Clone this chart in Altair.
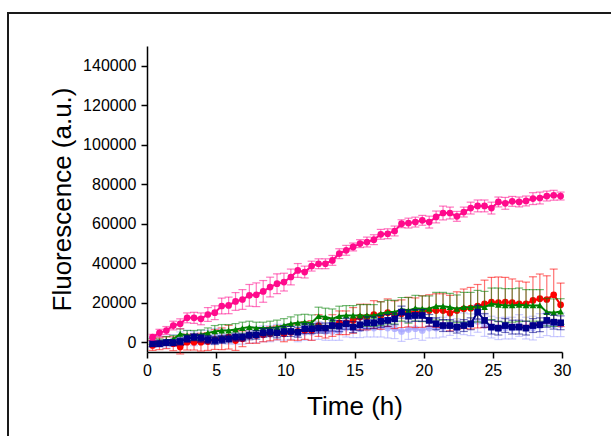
import altair as alt
import pandas as pd

# Sampling times (h)
hours = [round(0.4 + 0.5 * k, 2) for k in range(60)]

# Mean fluorescence (a.u.) for each construct
pink = [2500, 4700, 5900, 8400, 9300, 12300, 12300, 11800, 14000, 14900,
        18300, 18600, 20600, 21600, 23700, 24000, 25700, 27900, 29600, 30400,
        33000, 36300, 35500, 38500, 39700, 39700, 41400, 44800, 46500, 48200,
        49900, 50700, 51900, 54600, 54900, 56300, 60000, 60300, 60800, 61700,
        60800, 63400, 65400, 65400, 63700, 65900, 67900, 69000, 69000, 67900,
        71000, 70300, 71300, 71000, 71500, 72700, 73000, 74000, 74400, 74000]
red = [-1700, -800, -300, -800, -2500, 0, 0, 0, 300, 1300,
       1700, 2500, 800, 1700, 3400, 3400, 3700, 4200, 4700, 4200,
       5000, 5400, 5900, 5900, 8400, 7100, 8400, 9800, 9800, 11000,
       12700, 12700, 14000, 13500, 14900, 13900, 14400, 15200, 14900, 15500,
       16000, 16000, 16000, 14700, 16000, 16900, 17200, 18200, 19400, 20300,
       20000, 20300, 20000, 19400, 19400, 21100, 22000, 21600, 24000, 18900]
green = [300, 0, 800, 1400, 4200, 3400, 3400, 3700, 4700, 5400,
         5900, 5900, 6400, 7100, 7600, 7100, 7100, 7100, 7600, 8400,
         9300, 9800, 10100, 9800, 13200, 12700, 11800, 13200, 13500, 13500,
         13500, 13500, 13500, 14400, 15200, 15200, 16600, 16100, 17200, 16900,
         16900, 18200, 18200, 17700, 16900, 17700, 17700, 18200, 17700, 19400,
         18900, 18600, 18600, 18900, 18600, 18600, 18600, 15200, 14900, 15500]
navy = [-800, -800, -300, -300, 300, 1700, 2500, 2000, 1300, 800,
        1300, 1700, 2500, 2500, 3400, 3700, 4700, 5000, 4700, 5400,
        5400, 5000, 6800, 6800, 7100, 7100, 8400, 8100, 9300, 7600,
        8800, 9800, 9800, 10500, 11000, 11800, 15200, 13200, 13500, 13500,
        11000, 9300, 8400, 8400, 7600, 8400, 9300, 15200, 11000, 7600,
        7100, 8400, 7600, 7600, 7100, 8400, 8800, 11000, 10100, 9800]
lavender = [0, 300, 0, 800, 1700, 2500, 1700, 2500, 2500, 3400,
            3000, 2500, 2500, 2500, 3400, 3700, 4200, 4200, 5000, 5000,
            5400, 4200, 5000, 5000, 5900, 5400, 5400, 5400, 7100, 6800,
            6800, 7100, 7100, 7600, 7100, 6800, 5400, 6400, 6800, 5900,
            7100, 7100, 7600, 8400, 6800, 9300, 8800, 10500, 8400, 7600,
            6800, 7100, 7100, 8400, 7100, 7100, 8400, 9300, 8800, 8800]

# Standard deviations
pink_err = [1500, 1800, 2000, 2200, 2500, 2500, 2800, 3000, 3500, 3500,
            4000, 4200, 4500, 5000, 5500, 6000, 5500, 5000, 5000, 4500,
            4000, 3500, 3000, 2500, 2500, 2500, 2500, 2500, 2500, 2000,
            2000, 2500, 2500, 2500, 2500, 2500, 2000, 2500, 2500, 2500,
            3000, 3000, 3500, 3000, 2500, 2500, 3000, 3000, 3000, 3000,
            2500, 3000, 2500, 2500, 2500, 3000, 3000, 2500, 2500, 2000]
red_err = [2500, 3000, 3000, 3500, 3500, 4000, 4000, 4500, 4500, 5000,
           5500, 6000, 5000, 4000, 4000, 4000, 3500, 3500, 3500, 4000,
           4000, 4500, 4500, 5000, 5500, 5000, 5500, 6000, 6000, 6500,
           6500, 6500, 7000, 7000, 7000, 7000, 7000, 7500, 7500, 8000,
           8000, 8500, 8500, 9000, 9500, 10000, 10500, 11000, 12000, 12500,
           13000, 12500, 12000, 11500, 11000, 12000, 12500, 12000, 13000, 11000]
green_err = [1500, 1500, 2000, 2000, 2500, 2500, 2500, 2500, 2500, 3000,
             3000, 3000, 3000, 3000, 3000, 3000, 3000, 3500, 3500, 3500,
             3500, 4000, 4000, 4000, 4500, 4500, 5000, 5000, 5000, 5000,
             5500, 5500, 5500, 6000, 6000, 6000, 6000, 6500, 6500, 6500,
             6500, 7000, 7000, 7000, 7000, 7500, 7500, 8000, 8000, 8000,
             8500, 8500, 8500, 8500, 8000, 8000, 8000, 7000, 7000, 6500]
navy_err = [1500, 1500, 1500, 1500, 1800, 1800, 1800, 2000, 2000, 2000,
            2000, 2000, 2000, 2000, 2200, 2200, 2200, 2200, 2500, 2500,
            2500, 2500, 2500, 2500, 2500, 2500, 2800, 2800, 2800, 2800,
            3000, 3000, 3000, 3000, 3000, 3000, 3000, 3000, 3000, 3000,
            3000, 3000, 3000, 3000, 3000, 3000, 3000, 3500, 3500, 3500,
            3500, 3500, 3500, 3500, 3500, 3500, 3500, 3500, 3500, 3500]
lavender_err = [2500, 2500, 3000, 3000, 3500, 3500, 3500, 3500, 3500, 3500,
                3500, 3500, 3500, 3500, 4000, 4000, 4000, 4000, 4000, 4000,
                4000, 4000, 4000, 4000, 4500, 4500, 4500, 4500, 4500, 4500,
                4500, 4500, 4500, 5000, 5000, 5000, 5000, 5000, 5000, 5000,
                5000, 5000, 5000, 5000, 5000, 5500, 5500, 5500, 5500, 5500,
                5500, 5500, 5500, 5500, 5500, 6000, 6000, 6000, 6000, 6000]

# Drawing order: first listed is drawn first (at the bottom)
series_names = ["S5", "S2", "S3", "S4", "S1"]
series_means = [lavender, red, green, navy, pink]
series_errs = [lavender_err, red_err, green_err, navy_err, pink_err]
series_colors = ["#a4a4ff", "#ff0000", "#008000", "#00008b", "#ff0a8c"]
series_shapes = ["circle", "circle", "triangle-up", "square", "circle"]
series_alpha = [0.75, 1, 1, 1, 1]

rows = []
for name, means, errs in zip(series_names, series_means, series_errs):
    for t, m, e in zip(hours, means, errs):
        rows.append({"series": name, "t": t, "y": m, "lo": m - e, "hi": m + e})
df = pd.DataFrame(rows)

FONT = "Liberation Sans"
color = alt.Color("series:N", scale=alt.Scale(domain=series_names, range=series_colors), legend=None)
shape = alt.Shape("series:N", scale=alt.Scale(domain=series_names, range=series_shapes), legend=None)

x_axis = alt.Axis(
    title="Time (h)", values=[v * 2.5 for v in range(13)],
    labelExpr="datum.value % 5 === 0 ? datum.label : ''", format="d",
    tickSize={"condition": {"test": "datum.value % 5 === 0", "value": 6}, "value": 3.5},
    grid=False, domainColor="black", domainWidth=1.5, tickColor="black", tickWidth=1.5,
    labelFont=FONT, labelFontSize=16, labelColor="black", labelPadding=4, labelFlush=False,
    titleFont=FONT, titleFontSize=26, titleFontWeight="normal", titleColor="black",
    titleBaseline="alphabetic", titleY=62,
)
y_axis = alt.Axis(
    title="Fluorescence (a.u.)", values=[v * 10000 for v in range(16)],
    labelExpr="datum.value % 20000 === 0 ? datum.label : ''", format="d",
    tickSize={"condition": {"test": "datum.value % 20000 === 0", "value": 6}, "value": 3.5},
    grid=False, domainColor="black", domainWidth=1.5, tickColor="black", tickWidth=1.5,
    labelFont=FONT, labelFontSize=16, labelColor="black", labelPadding=5, labelFlush=False,
    titleFont=FONT, titleFontSize=26, titleFontWeight="normal", titleColor="black",
    titleX=-85, titleBaseline="middle",
)

xs = alt.X("t:Q", scale=alt.Scale(domain=[0, 30], nice=False, zero=False), axis=x_axis)
ys = alt.Y("y:Q", scale=alt.Scale(domain=[-5000, 150000], nice=False, zero=False), axis=y_axis)

base = alt.Chart(df)


def series_layers(name, alpha):
    sub = base.transform_filter(alt.datum.series == name)
    bars = sub.mark_rule(strokeWidth=1.2, opacity=0.55).encode(
        x="t:Q", y="lo:Q", y2="hi:Q", color=color)
    caps_lo = sub.mark_tick(orient="horizontal", size=8, thickness=1.2, opacity=0.55).encode(
        x="t:Q", y="lo:Q", color=color)
    caps_hi = sub.mark_tick(orient="horizontal", size=8, thickness=1.2, opacity=0.55).encode(
        x="t:Q", y="hi:Q", color=color)
    line = sub.mark_line(strokeWidth=2, opacity=alpha).encode(x=xs, y=ys, color=color, order="t:Q")
    pts = sub.mark_point(filled=True, size=45, opacity=alpha).encode(
        x="t:Q", y="y:Q", color=color, shape=shape)
    return [line, bars, caps_lo, caps_hi, pts]


layers = []
for name, alpha in zip(series_names, series_alpha):
    layers.extend(series_layers(name, alpha))

frame = alt.Chart(alt.Data(values=[{}])).mark_rect(
    fillOpacity=0, stroke="#1a1a1a", strokeWidth=2
).encode(x=alt.value(-139), x2=alt.value(600), y=alt.value(-33), y2=alt.value(500))

chart = alt.layer(*layers, frame).properties(
    width=415, height=306,
    autosize=alt.AutoSizeParams(type="none"),
    padding={"left": 147, "top": 46, "right": 49, "bottom": 84},
    background="white",
).configure_view(stroke=None)

chart.save("out.html", embed_options={"renderer": "svg", "actions": False})
